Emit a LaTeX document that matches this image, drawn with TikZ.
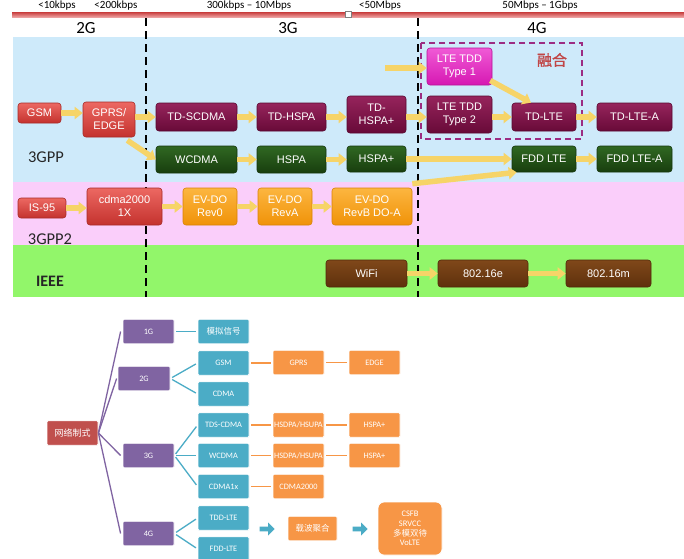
\documentclass[tikz,border=0pt]{standalone}
\usepackage{fontspec}
\setmainfont{Liberation Sans}
\newfontfamily\calfont{Carlito}
\newfontfamily\cjkfont{Noto Sans CJK SC}
\newfontfamily\cjkbf[FakeBold=1.2]{Noto Sans CJK SC}
\usetikzlibrary{arrows.meta,shapes.arrows}
\definecolor{bluebg}{RGB}{206,234,250}
\definecolor{pinkbg}{RGB}{250,206,250}
\definecolor{greenbg}{RGB}{146,246,106}
\definecolor{redT}{RGB}{236,104,98}
\definecolor{redB}{RGB}{196,50,46}
\definecolor{marT}{RGB}{150,36,92}
\definecolor{marB}{RGB}{104,10,56}
\definecolor{grnT}{RGB}{48,104,34}
\definecolor{grnB}{RGB}{24,62,14}
\definecolor{orgT}{RGB}{252,182,64}
\definecolor{orgB}{RGB}{240,146,8}
\definecolor{magT}{RGB}{240,90,214}
\definecolor{magB}{RGB}{214,24,178}
\definecolor{brnT}{RGB}{128,72,26}
\definecolor{brnB}{RGB}{94,48,12}
\definecolor{arrowyel}{RGB}{246,212,104}
\definecolor{fusion}{RGB}{156,44,130}
\definecolor{fusiontxt}{RGB}{192,70,70}
\definecolor{lpurple}{RGB}{128,100,162}
\definecolor{lteal}{RGB}{75,172,198}
\definecolor{lorange}{RGB}{247,150,70}
\definecolor{lred}{RGB}{192,80,77}
\definecolor{barT}{RGB}{200,60,60}
\definecolor{barB}{RGB}{240,170,170}
\tikzset{
  ubox/.style={rounded corners=3pt, text=white, align=center, inner sep=0pt,
    line width=0.6pt, font=\fontsize{11}{13}\selectfont},
  sz/.style 2 args={minimum width=#1, minimum height=#2},
  ured/.style={ubox, top color=redT, bottom color=redB, draw=redB!85!black},
  umar/.style={ubox, top color=marT, bottom color=marB, draw=marB!85!black},
  ugrn/.style={ubox, top color=grnT, bottom color=grnB, draw=grnB!85!black},
  uorg/.style={ubox, top color=orgT, bottom color=orgB, draw=orgB!90!black},
  umag/.style={ubox, top color=magT, bottom color=magB, draw=magB!85!black},
  ubrn/.style={ubox, top color=brnT, bottom color=brnB, draw=brnB!85!black},
  yarr/.style={line width=5.5pt, draw=arrowyel, -{Triangle[length=8pt,width=12pt]}},
  era/.style={font=\calfont\fontsize{17}{17}\selectfont, text=black},
  rate/.style={font=\calfont\fontsize{11}{11}\selectfont, text=black},
  grp/.style={font=\calfont\fontsize{16.5}{16.5}\selectfont, text=black!85},
  divider/.style={black, line width=1.6pt, dash pattern=on 8pt off 5pt},
  lbox/.style={minimum width=51pt, minimum height=24.5pt, inner sep=0pt, text=white,
    font=\calfont\fontsize{8.3}{9.7}\selectfont, draw=white, line width=0.8pt,
    rounded corners=1pt, align=center},
  lpur/.style={lbox, fill=lpurple},
  ltea/.style={lbox, fill=lteal},
  lorg/.style={lbox, fill=lorange},
  lrd/.style={lbox, fill=lred},
  pline/.style={lpurple, line width=1.3pt},
  tline/.style={lteal, line width=1.3pt, shorten <=2pt, shorten >=2pt},
  oline/.style={lorange, line width=1.3pt, shorten <=2pt, shorten >=2pt},
  tarrow/.style={single arrow, fill=lteal, draw=none, minimum height=15pt,
    minimum width=13pt, single arrow head extend=2pt, inner sep=1pt}
}
\begin{document}
\begin{tikzpicture}[x=1pt,y=-1pt]
\useasboundingbox (0,0) rectangle (684,558);
\fill[white] (0,0) rectangle (684,558);
% background bands
\fill[bluebg] (13,37) rectangle (684,182);
\fill[pinkbg] (13,182) rectangle (684,245);
\fill[greenbg] (13,245) rectangle (684,297);
% top bar
\shade[top color=barT, bottom color=barB] (12,12) rectangle (684,17.5);
\node[draw=gray, fill=white, inner sep=0pt, minimum size=6pt] (marker) at (348,14) {};
\node[rate] (r1) at (57,6) {<10kbps};
\node[rate] (r2) at (116,6) {<200kbps};
\node[rate] (r3) at (249,6) {300kbps – 10Mbps};
\node[rate] (r4) at (380,6) {<50Mbps};
\node[rate] (r5) at (540,6) {50Mbps – 1Gbps};
\node[era] (e2) at (86,28) {2G};
\node[era] (e3) at (288,28) {3G};
\node[era] (e4) at (537,28) {4G};
\draw[divider] (146,18) -- (146,297);
\draw[divider] (418,18) -- (418,297);
% group labels
\node[grp] (l3gpp) at (46,157) {3GPP};
\node[grp] (l3gpp2) at (50,239) {3GPP2};
\node[grp, font=\calfont\bfseries\fontsize{16}{16}\selectfont] (lieee) at (50,281) {IEEE};
% fusion box
\draw[fusion, line width=1.5pt, dash pattern=on 6pt off 4pt] (421,43) rectangle (582,139);
\node[text=fusiontxt, font=\cjkbf\fontsize{15}{15}\selectfont] (fuse) at (552,60) {融合};
% 3GPP boxes
\node[ured, sz={43pt}{20pt}] (gsm) at (39.5,113) {GSM};
\node[ured, sz={52pt}{35pt}] (gprs) at (109,119.5) {GPRS/\\EDGE};
\node[umar, sz={81pt}{28pt}] (tdscdma) at (196.5,117) {TD-SCDMA};
\node[umar, sz={69pt}{28pt}] (tdhspa) at (291.5,117) {TD-HSPA};
\node[umar, sz={59pt}{37pt}] (tdhspap) at (376.5,114.5) {TD-\\HSPA+};
\node[ugrn, sz={81pt}{27pt}] (wcdma) at (196.5,159.5) {WCDMA};
\node[ugrn, sz={69pt}{27pt}] (hspa) at (291.5,159.5) {HSPA};
\node[ugrn, sz={59pt}{26pt}] (hspap) at (376.5,159) {HSPA+};
\node[umag, sz={65pt}{37pt}] (type1) at (459.5,66.5) {LTE TDD\\Type 1};
\node[umar, sz={65pt}{37pt}] (type2) at (459.5,114.5) {LTE TDD\\Type 2};
\node[umar, sz={64pt}{28pt}] (tdlte) at (544,117) {TD-LTE};
\node[umar, sz={75pt}{28pt}] (tdltea) at (634.5,117) {TD-LTE-A};
\node[ugrn, sz={64pt}{26pt}] (fddlte) at (544,159) {FDD LTE};
\node[ugrn, sz={75pt}{26pt}] (fddltea) at (634.5,159) {FDD LTE-A};
% 3GPP2 boxes
\node[ured, sz={48pt}{20pt}] (is95) at (42,208) {IS-95};
\node[ured, sz={75pt}{37pt}] (cdma2k) at (124.5,206.5) {cdma2000\\1X};
\node[uorg, sz={54pt}{37pt}] (rev0) at (210,206.5) {EV-DO\\Rev0};
\node[uorg, sz={54pt}{37pt}] (revA) at (285,206.5) {EV-DO\\RevA};
\node[uorg, sz={80pt}{37pt}] (revB) at (372,206.5) {EV-DO\\RevB DO-A};
% IEEE boxes
\node[ubrn, sz={81pt}{27pt}] (wifi) at (366.5,273.5) {WiFi};
\node[ubrn, sz={90pt}{27pt}] (w16e) at (483,273.5) {802.16e};
\node[ubrn, sz={85pt}{27pt}] (w16m) at (608.5,273.5) {802.16m};
% yellow arrows
\coordinate (t1in) at (385,68);
\draw[yarr] (gsm.east) -- (gprs.west |- gsm.east);
\draw[yarr] (gprs.east |- tdscdma.west) -- (tdscdma.west);
\draw[yarr] ([xshift=-8pt,yshift=-3pt]gprs.south east) -- (wcdma.west);
\draw[yarr] (tdscdma.east) -- (tdhspa.west);
\draw[yarr] (tdhspa.east) -- (tdhspap.west |- tdhspa.east);
\draw[yarr] (tdhspap.east |- tdhspa.east) -- (type2.west |- tdhspa.east);
\draw[yarr] (wcdma.east) -- (hspa.west);
\draw[yarr] (hspa.east) -- (hspap.west |- hspa.east);
\draw[yarr] (t1in) -- (type1.west |- t1in);
\draw[yarr] ([xshift=-2pt,yshift=-14pt]type1.east) -- ([xshift=-13pt]tdlte.north);
\draw[yarr] (type2.east |- tdlte.west) -- (tdlte.west);
\draw[yarr] (tdlte.east) -- (tdltea.west);
\draw[yarr] (hspap.east) -- (fddlte.west);
\draw[yarr] (fddlte.east) -- (fddltea.west);
\draw[yarr] (is95.east) -- (cdma2k.west |- is95.east);
\draw[yarr] (cdma2k.east) -- (rev0.west);
\draw[yarr] (rev0.east) -- (revA.west);
\draw[yarr] (revA.east) -- (revB.west);
\draw[yarr] ([yshift=4pt]revB.north east) -- ([xshift=5pt]fddlte.south west);
\draw[yarr] (wifi.east) -- (w16e.west);
\draw[yarr] (w16e.east) -- (w16m.west);
% ---------- lower diagram ----------
\node[lrd, font=\cjkfont\fontsize{9}{10}\selectfont] (net) at (72.5,433) {网络制式};
\node[lpur] (g1) at (148.5,331.5) {1G};
\node[lpur, minimum width=52pt] (g2) at (144,378.5) {2G};
\node[lpur] (g3) at (148.5,455.5) {3G};
\node[lpur] (g4) at (148.5,533.5) {4G};
\node[ltea, font=\cjkfont\fontsize{8.5}{10}\selectfont] (analog) at (223.5,331.5) {模拟信号};
\node[ltea] (gsmb) at (223.5,363) {GSM};
\node[ltea] (cdmab) at (223.5,394) {CDMA};
\node[ltea] (tds) at (223.5,425) {TDS-CDMA};
\node[ltea] (wcdmab) at (223.5,455.5) {WCDMA};
\node[ltea] (cdma1x) at (223.5,486.5) {CDMA1x};
\node[ltea] (tddlte) at (223.5,518) {TDD-LTE};
\node[ltea] (fddlteb) at (223.5,549) {FDD-LTE};
\node[lorg] (gprsb) at (298.5,362.5) {GPRS};
\node[lorg] (edge) at (374.5,362.5) {EDGE};
\node[lorg] (hsdpa1) at (298.5,425) {HSDPA/HSUPA};
\node[lorg] (hspap1) at (374.5,425) {HSPA+};
\node[lorg] (hsdpa2) at (298.5,455.5) {HSDPA/HSUPA};
\node[lorg] (hspap2) at (374.5,455.5) {HSPA+};
\node[lorg] (cdma2kb) at (298.5,486.5) {CDMA2000};
\node[lorg, minimum width=49pt, font=\cjkfont\fontsize{8.5}{10}\selectfont] (ca) at (312.5,528.5) {载波聚合};
\node[lbox, fill=lorange, minimum width=64pt, minimum height=53pt, rounded corners=6pt,
  font=\calfont\fontsize{8.5}{9.8}\selectfont] (csfb) at (410,528.5)
  {CSFB\\SRVCC\\{\cjkfont\fontsize{8.5}{9.8}\selectfont 多模双待}\\VoLTE};
\node[tarrow] (arr1) at (266,529) {};
\node[tarrow] (arr2) at (359,529) {};
% purple connectors
\draw[pline] (net.east) -- ([xshift=-2pt]g1.west);
\draw[pline] (net.east) -- ([xshift=-1pt]g2.west);
\draw[pline] (net.east) -- ([xshift=-2pt]g3.west);
\draw[pline] (net.east) -- ([xshift=-2pt]g4.west);
% teal connectors
\draw[tline] (g1.east) -- (analog.west);
\draw[tline] (g2.east) -- (gsmb.west);
\draw[tline] (g2.east) -- (cdmab.west);
\draw[tline] (g3.east) -- (tds.west);
\draw[tline] (g3.east) -- (wcdmab.west);
\draw[tline] (g3.east) -- (cdma1x.west);
\draw[tline] (g4.east) -- (tddlte.west);
\draw[tline] (g4.east) -- (fddlteb.west);
% orange connectors
\draw[oline] (gsmb.east) -- (gprsb.west |- gsmb.east);
\draw[oline] (gprsb.east) -- (edge.west);
\draw[oline] (tds.east) -- (hsdpa1.west);
\draw[oline] (hsdpa1.east) -- (hspap1.west);
\draw[oline] (wcdmab.east) -- (hsdpa2.west);
\draw[oline] (hsdpa2.east) -- (hspap2.west);
\draw[oline] (cdma1x.east) -- (cdma2kb.west);
\end{tikzpicture}
\end{document}
